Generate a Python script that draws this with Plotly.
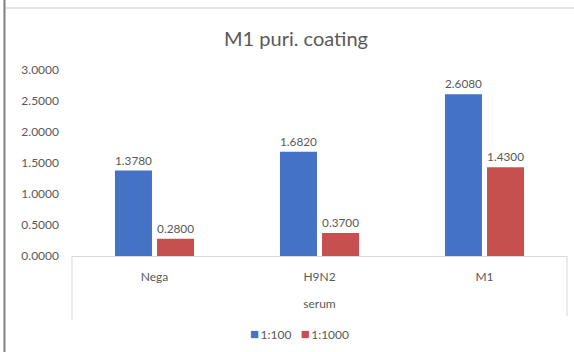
import plotly.graph_objects as go

categories = ["Nega", "H9N2", "M1"]
series_names = ["1:100", "1:1000"]
values_1_100 = [1.378, 1.682, 2.608]
values_1_1000 = [0.28, 0.37, 1.43]
y_ticks = [0.0, 0.5, 1.0, 1.5, 2.0, 2.5, 3.0]
title_text = "M1 puri. coating"
x_title = "serum"

colors = ["#4472C4", "#C5504D"]
gray = "#595959"
FONT = "Lato"

W, H = 574, 352
L, R, T, B = 72, 7, 70, 96
pw, ph = W - L - R, H - T - B

def px_x(x):
    return (x - L) / pw

def px_y(y):
    return (H - B - y) / ph

fig = go.Figure()
for name, vals, col in zip(series_names, [values_1_100, values_1_1000], colors):
    fig.add_trace(go.Bar(
        name=name, x=categories, y=vals, marker=dict(color=col, line=dict(width=0)),
        text=[f"{v:.4f}" for v in vals], textposition="outside",
        textfont=dict(family=FONT, size=12, color=gray), cliponaxis=False,
    ))

shapes = [
    dict(type="line", xref="x domain", yref="paper", x0=0, x1=0, y0=0, y1=px_y(320),
         line=dict(color="#d9d9d9", width=1)),
    dict(type="line", xref="x domain", yref="paper", x0=1, x1=1, y0=0, y1=px_y(316),
         line=dict(color="#d9d9d9", width=1)),
    dict(type="line", xref="paper", yref="paper", x0=px_x(4.5), x1=px_x(4.5), y0=px_y(0), y1=px_y(352),
         line=dict(color="#7f7f7f", width=2)),
    dict(type="line", xref="paper", yref="paper", x0=px_x(6), x1=px_x(574), y0=px_y(8), y1=px_y(8),
         line=dict(color="#dcdcdc", width=1.5)),
]

legend_html = "\u00a0\u00a0\u00a0".join(
    f"<span style='color:{c};font-size:15px'>■</span>\u2009{n}" for n, c in zip(series_names, colors)
)

fig.update_layout(
    width=W, height=H, margin=dict(l=L, r=R, t=T, b=B),
    paper_bgcolor="white", plot_bgcolor="white",
    barmode="group", bargap=0.49, bargroupgap=0.12,
    title=dict(text=title_text, x=296 / W, xref="container", xanchor="center",
               y=1 - 39 / H, yref="container", yanchor="middle",
               font=dict(family=FONT, size=20, color=gray)),
    font=dict(family=FONT, size=12, color=gray),
    showlegend=False,
    shapes=shapes,
    annotations=[dict(text=legend_html, xref="paper", yref="paper",
                      x=px_x(299), y=px_y(333), xanchor="center", yanchor="middle",
                      showarrow=False, font=dict(family=FONT, size=12, color=gray))],
)
fig.update_yaxes(range=[0, 3], tickvals=y_ticks, ticktext=[f"{v:.4f}" for v in y_ticks],
                 showgrid=False, zeroline=False, showline=False,
                 tickfont=dict(family=FONT, size=12, color=gray), ticklabelstandoff=12)
fig.update_xaxes(showline=True, linecolor="#d9d9d9", linewidth=1, showgrid=False,
                 tickfont=dict(family=FONT, size=12, color=gray), ticklabelstandoff=10,
                 title=dict(text=x_title, font=dict(family=FONT, size=12, color=gray), standoff=16))

fig.write_html("out.html", config={"displayModeBar": False},
               post_script="document.body.style.margin='0';")
